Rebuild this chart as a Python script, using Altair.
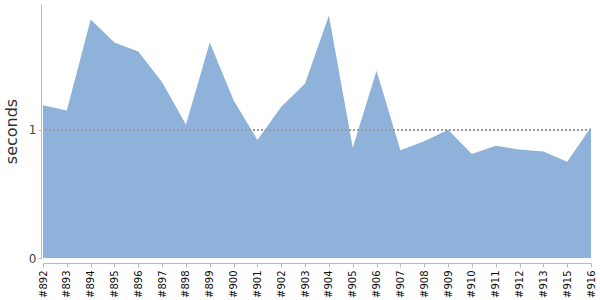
import altair as alt
import pandas as pd

builds = ["#892", "#893", "#894", "#895", "#896", "#897", "#898", "#899", "#900",
          "#901", "#902", "#903", "#904", "#905", "#906", "#907", "#908", "#909",
          "#910", "#911", "#912", "#913", "#915", "#916"]
seconds = [1.19, 1.15, 1.86, 1.68, 1.61, 1.37, 1.04, 1.68, 1.23,
           0.92, 1.18, 1.36, 1.89, 0.86, 1.46, 0.84, 0.91, 1.00,
           0.81, 0.875, 0.845, 0.83, 0.75, 1.02]

df = pd.DataFrame({"build": builds, "seconds": seconds})

x = alt.X("build:N", sort=None, title=None,
          scale=alt.Scale(type="point", padding=0),
          axis=alt.Axis(labelAngle=-90, labelFontSize=10, labelColor="#111",
                        labelFont="DejaVu Sans", domainColor="#bbb", tickColor="#bbb",
                        tickSize=4, offset=5, labelPadding=3))
y = alt.Y("seconds:Q", title="seconds",
          scale=alt.Scale(domain=[0, 1.98], nice=False),
          axis=alt.Axis(values=[0, 1], format="d", grid=False, domainColor="#bbb",
                        tickColor="#bbb", tickSize=3, offset=2, labelColor="#444",
                        labelFontSize=12, labelFont="DejaVu Sans", titleFont="DejaVu Sans",
                        titleFontSize=16, titleFontWeight="normal", titleColor="#333",
                        titlePadding=9))

area = alt.Chart(df).mark_area(color="#8fb2da", opacity=1).encode(x=x, y=y)
rule = alt.Chart(df).mark_rule(color="#999", strokeDash=[2, 2], strokeWidth=0.7).encode(
    y=alt.datum(1))

chart = alt.layer(area, rule).properties(
    width=548, height=254,
    autosize=alt.AutoSizeParams(type="none"),
    padding={"left": 43, "top": 4, "right": 9, "bottom": 42},
).configure_view(stroke=None)

chart.save("out.html", embed_options={"renderer": "svg", "actions": False})
